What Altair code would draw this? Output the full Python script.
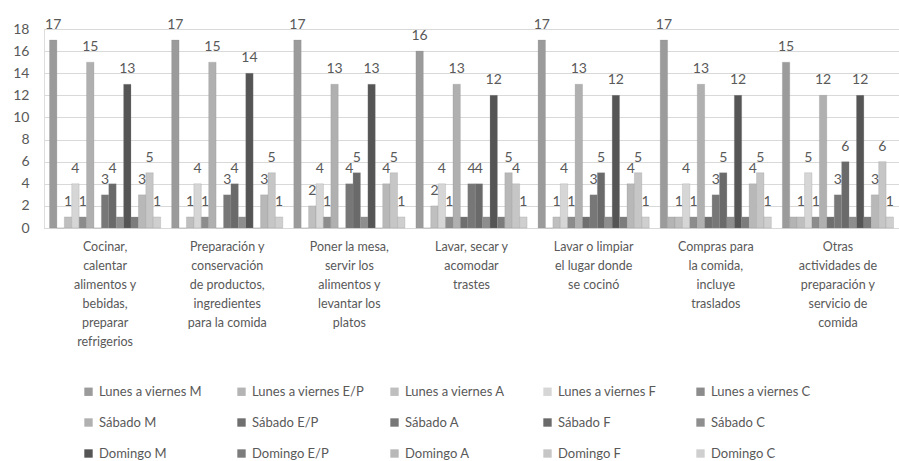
import altair as alt
import pandas as pd

categories = [
    "Cocinar,|calentar|alimentos y|bebidas,|preparar|refrigerios",
    "Preparación y|conservación|de productos,|ingredientes|para la comida",
    "Poner la mesa,|servir los|alimentos y|levantar los|platos",
    "Lavar, secar y|acomodar|trastes",
    "Lavar o limpiar|el lugar donde|se cocinó",
    "Compras para|la comida,|incluye|traslados",
    "Otras|actividades de|preparación y|servicio de|comida",
]

series = [
    "Lunes a viernes M", "Lunes a viernes E/P", "Lunes a viernes A", "Lunes a viernes F", "Lunes a viernes C",
    "Sábado M", "Sábado E/P", "Sábado A", "Sábado F", "Sábado C",
    "Domingo M", "Domingo E/P", "Domingo A", "Domingo F", "Domingo C",
]

values = [
    [17, 0, 1, 4, 1, 15, 0, 3, 4, 1, 13, 1, 3, 5, 1],
    [17, 0, 1, 4, 1, 15, 0, 3, 4, 1, 14, 0, 3, 5, 1],
    [17, 0, 2, 4, 1, 13, 0, 4, 5, 1, 13, 0, 4, 5, 1],
    [16, 0, 2, 4, 1, 13, 1, 4, 4, 1, 12, 1, 5, 4, 1],
    [17, 0, 1, 4, 1, 13, 1, 3, 5, 1, 12, 1, 4, 5, 1],
    [17, 1, 1, 4, 1, 13, 1, 3, 5, 1, 12, 1, 4, 5, 1],
    [15, 1, 1, 5, 1, 12, 1, 3, 6, 1, 12, 1, 3, 6, 1],
]

labeled = [True, False, True, True, True, True, False, True, True, False, True, False, True, True, True]

colors = [
    "#9b9b9b", "#b4b4b4", "#bfbfbf", "#d6d6d6", "#8c8c8c",
    "#b0b0b0", "#6f6f6f", "#777777", "#6a6a6a", "#8e8e8e",
    "#555555", "#7c7c7c", "#b8b8b8", "#c6c6c6", "#cfcfcf",
]

rows = []
for ci, cat in enumerate(categories):
    for si, s in enumerate(series):
        rows.append({"cat": cat, "serie": s, "valor": values[ci][si], "lab": labeled[si]})
df = pd.DataFrame(rows)

FONT = "Lato"
GRAY_TXT = "#595959"

x = alt.X("cat:N", sort=categories, title=None,
          scale=alt.Scale(paddingInner=0.09, paddingOuter=0.045),
          axis=alt.Axis(labelExpr="split(datum.label, '|')", labelAngle=0,
                        labelLineHeight=19, labelFontSize=12.5, labelColor=GRAY_TXT,
                        labelFont=FONT, labelPadding=12, ticks=False,
                        domainColor="#d9d9d9", labelLimit=200, labelBaseline="top"))
xo = alt.XOffset("serie:N", sort=series)
y = alt.Y("valor:Q", title=None,
          scale=alt.Scale(domain=[0, 18], nice=False),
          axis=alt.Axis(values=list(range(0, 19, 2)), labelFontSize=14, labelColor=GRAY_TXT,
                        labelFont=FONT, labelPadding=15, ticks=False, domain=False,
                        gridColor="#d9d9d9"))

bars = alt.Chart(df).mark_bar(stroke="#8a8a8a", strokeWidth=0.4, strokeOpacity=0.6).encode(
    x=x, xOffset=xo, y=y,
    color=alt.Color("serie:N", sort=series,
                    scale=alt.Scale(domain=series, range=colors),
                    legend=alt.Legend(title=None, orient="none", legendX=38, legendY=356,
                                      direction="horizontal",
                                      columns=5, gridAlign="all", symbolType="square",
                                      symbolSize=70, symbolStrokeWidth=0,
                                      labelFontSize=13, labelColor=GRAY_TXT, labelFont=FONT,
                                      columnPadding=23, rowPadding=17, padding=0,
                                      labelLimit=200)),
)

texts = alt.Chart(df).transform_filter("datum.lab").mark_text(
    baseline="bottom", dy=-8, fontSize=14, color=GRAY_TXT, font=FONT
).encode(x=x, xOffset=xo, y=y, text="valor:Q")

chart = alt.layer(bars, texts).properties(
    width=855, height=199,
    autosize=alt.AutoSizeParams(type="none"),
    padding={"left": 44, "top": 29, "right": 0, "bottom": 233},
).configure_view(stroke=None).configure(background="white")

chart.save("out.html", embed_options={"renderer": "svg", "actions": False})
